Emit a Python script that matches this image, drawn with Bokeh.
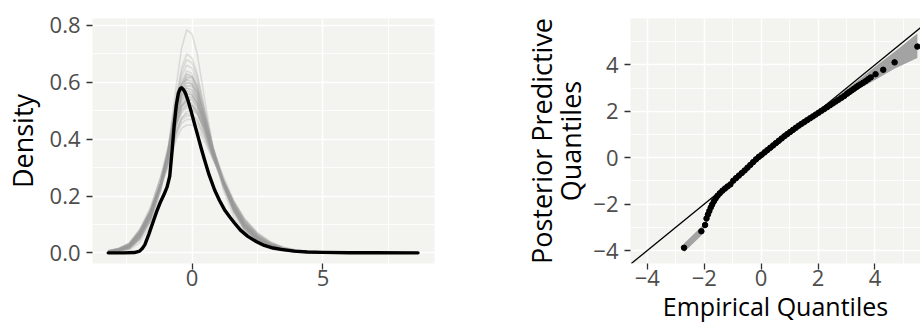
from bokeh.plotting import figure
from bokeh.layouts import row
from bokeh.models import FixedTicker, Slope, Range1d
from bokeh.embed import file_html
from bokeh.resources import INLINE

# ---------------- data: left panel (density overlay) ----------------
obs_x = [-3.2, -2.6, -2.2, -2.0, -1.9, -1.8, -1.65, -1.5, -1.35, -1.2, -1.07, -0.95, -0.85,
         -0.76, -0.68, -0.6, -0.52, -0.45, -0.40, -0.34, -0.25, -0.15, -0.03, 0.1, 0.23,
         0.35, 0.48, 0.65, 0.86, 1.05, 1.24, 1.45, 1.62, 1.85, 2.13, 2.45, 2.76, 3.1, 3.4,
         3.9, 4.4, 5.0, 6.0, 7.0, 8.63]
obs_y = [0.0, 0.0, 0.001, 0.006, 0.015, 0.029, 0.065, 0.105, 0.145, 0.180, 0.205, 0.232, 0.27,
         0.36, 0.45, 0.52, 0.562, 0.578, 0.581, 0.576, 0.562, 0.535, 0.497, 0.452, 0.409,
         0.368, 0.327, 0.275, 0.222, 0.184, 0.152, 0.125, 0.105, 0.080, 0.058, 0.040, 0.026,
         0.017, 0.012, 0.006, 0.003, 0.0015, 0.0005, 0.0002, 0.0]

rep_x = [-3.2, -2.8, -2.4, -2.0, -1.6, -1.2, -0.9, -0.6, -0.4, -0.2, 0.0, 0.2, 0.5, 0.8,
         1.2, 1.6, 2.0, 2.5, 3.0, 3.5, 4.0, 4.5, 5.0, 5.5]
rep_1 = [0.002, 0.004, 0.010, 0.035, 0.095, 0.215, 0.37, 0.59, 0.72, 0.785, 0.77, 0.70, 0.53, 0.37, 0.22, 0.125, 0.068, 0.032, 0.014, 0.006, 0.003, 0.001, 0.0, 0.0]
rep_2 = [0.003, 0.006, 0.014, 0.045, 0.11, 0.23, 0.37, 0.55, 0.65, 0.70, 0.685, 0.63, 0.50, 0.37, 0.235, 0.14, 0.078, 0.038, 0.017, 0.008, 0.003, 0.001, 0.0, 0.0]
rep_3 = [0.003, 0.007, 0.016, 0.05, 0.115, 0.235, 0.37, 0.545, 0.635, 0.68, 0.668, 0.62, 0.495, 0.37, 0.24, 0.145, 0.082, 0.04, 0.018, 0.008, 0.003, 0.001, 0.0, 0.0]
rep_4 = [0.003, 0.007, 0.017, 0.052, 0.12, 0.24, 0.37, 0.535, 0.62, 0.66, 0.65, 0.605, 0.485, 0.365, 0.24, 0.148, 0.085, 0.042, 0.02, 0.009, 0.004, 0.001, 0.0, 0.0]
rep_5 = [0.003, 0.008, 0.019, 0.056, 0.125, 0.24, 0.36, 0.52, 0.595, 0.63, 0.622, 0.58, 0.47, 0.36, 0.24, 0.15, 0.088, 0.045, 0.021, 0.01, 0.004, 0.002, 0.001, 0.0]
rep_6 = [0.004, 0.009, 0.02, 0.058, 0.128, 0.242, 0.36, 0.515, 0.587, 0.62, 0.612, 0.572, 0.466, 0.358, 0.242, 0.152, 0.09, 0.046, 0.022, 0.01, 0.005, 0.002, 0.001, 0.0]
rep_7 = [0.003, 0.008, 0.019, 0.055, 0.122, 0.235, 0.352, 0.505, 0.578, 0.61, 0.605, 0.57, 0.47, 0.365, 0.248, 0.157, 0.093, 0.047, 0.022, 0.01, 0.005, 0.002, 0.001, 0.0]
rep_8 = [0.004, 0.009, 0.021, 0.06, 0.13, 0.243, 0.357, 0.505, 0.572, 0.60, 0.592, 0.555, 0.458, 0.355, 0.245, 0.156, 0.094, 0.049, 0.024, 0.011, 0.005, 0.002, 0.001, 0.0]
rep_9 = [0.004, 0.01, 0.022, 0.062, 0.133, 0.245, 0.356, 0.5, 0.565, 0.59, 0.583, 0.548, 0.455, 0.355, 0.246, 0.158, 0.096, 0.05, 0.025, 0.012, 0.005, 0.002, 0.001, 0.0]
rep_10 = [0.004, 0.01, 0.023, 0.064, 0.135, 0.245, 0.354, 0.492, 0.555, 0.58, 0.574, 0.541, 0.452, 0.354, 0.247, 0.16, 0.097, 0.051, 0.025, 0.012, 0.006, 0.003, 0.001, 0.0]
rep_11 = [0.004, 0.01, 0.023, 0.063, 0.132, 0.24, 0.347, 0.483, 0.545, 0.57, 0.566, 0.536, 0.452, 0.357, 0.252, 0.164, 0.1, 0.053, 0.026, 0.012, 0.006, 0.003, 0.001, 0.0]
rep_12 = [0.005, 0.011, 0.025, 0.067, 0.138, 0.245, 0.35, 0.479, 0.537, 0.56, 0.555, 0.525, 0.442, 0.35, 0.248, 0.163, 0.1, 0.054, 0.027, 0.013, 0.006, 0.003, 0.001, 0.0]
rep_13 = [0.005, 0.011, 0.025, 0.067, 0.137, 0.243, 0.346, 0.472, 0.528, 0.55, 0.546, 0.518, 0.438, 0.348, 0.248, 0.164, 0.102, 0.055, 0.028, 0.013, 0.006, 0.003, 0.001, 0.0]
rep_14 = [0.005, 0.012, 0.026, 0.069, 0.14, 0.244, 0.344, 0.466, 0.519, 0.54, 0.537, 0.511, 0.435, 0.348, 0.25, 0.166, 0.104, 0.057, 0.029, 0.014, 0.007, 0.003, 0.001, 0.0]
rep_15 = [0.005, 0.012, 0.027, 0.07, 0.14, 0.242, 0.34, 0.458, 0.51, 0.53, 0.527, 0.503, 0.43, 0.346, 0.25, 0.168, 0.106, 0.058, 0.03, 0.014, 0.007, 0.003, 0.001, 0.0]
rep_16 = [0.006, 0.013, 0.029, 0.073, 0.143, 0.242, 0.333, 0.445, 0.492, 0.51, 0.508, 0.487, 0.42, 0.342, 0.252, 0.172, 0.11, 0.061, 0.032, 0.015, 0.007, 0.003, 0.001, 0.0]
rep_17 = [0.006, 0.014, 0.03, 0.075, 0.144, 0.238, 0.325, 0.43, 0.474, 0.49, 0.489, 0.47, 0.41, 0.338, 0.253, 0.175, 0.114, 0.064, 0.034, 0.017, 0.008, 0.004, 0.002, 0.0]
rep_18 = [0.007, 0.015, 0.032, 0.078, 0.146, 0.236, 0.318, 0.415, 0.456, 0.47, 0.469, 0.453, 0.4, 0.333, 0.253, 0.178, 0.118, 0.068, 0.036, 0.018, 0.009, 0.004, 0.002, 0.0]
rep_19 = [0.007, 0.016, 0.034, 0.08, 0.147, 0.232, 0.309, 0.4, 0.438, 0.45, 0.45, 0.436, 0.389, 0.328, 0.253, 0.181, 0.122, 0.071, 0.039, 0.02, 0.01, 0.005, 0.002, 0.0]
rep_20 = [0.005, 0.012, 0.028, 0.071, 0.142, 0.243, 0.337, 0.452, 0.501, 0.52, 0.518, 0.495, 0.425, 0.344, 0.251, 0.17, 0.108, 0.06, 0.031, 0.015, 0.007, 0.003, 0.001, 0.0]
rep_21 = [0.003, 0.008, 0.018, 0.054, 0.122, 0.238, 0.362, 0.525, 0.603, 0.64, 0.632, 0.59, 0.476, 0.362, 0.24, 0.149, 0.087, 0.044, 0.02, 0.009, 0.004, 0.002, 0.001, 0.0]
rep_22 = [0.002, 0.006, 0.015, 0.047, 0.11, 0.222, 0.34, 0.495, 0.575, 0.615, 0.62, 0.59, 0.49, 0.375, 0.25, 0.157, 0.092, 0.046, 0.021, 0.01, 0.004, 0.002, 0.001, 0.0]
rep_23 = [0.005, 0.011, 0.025, 0.068, 0.145, 0.265, 0.38, 0.53, 0.595, 0.61, 0.595, 0.55, 0.445, 0.34, 0.23, 0.145, 0.086, 0.044, 0.021, 0.01, 0.004, 0.002, 0.001, 0.0]
rep_24 = [0.003, 0.008, 0.02, 0.058, 0.127, 0.24, 0.354, 0.5, 0.568, 0.598, 0.596, 0.562, 0.466, 0.36, 0.247, 0.156, 0.093, 0.048, 0.023, 0.011, 0.005, 0.002, 0.001, 0.0]
rep_25 = [0.003, 0.007, 0.018, 0.053, 0.12, 0.228, 0.337, 0.478, 0.548, 0.585, 0.59, 0.565, 0.477, 0.372, 0.256, 0.163, 0.098, 0.05, 0.024, 0.011, 0.005, 0.002, 0.001, 0.0]
rep_26 = [0.004, 0.01, 0.022, 0.062, 0.133, 0.244, 0.353, 0.49, 0.553, 0.578, 0.573, 0.54, 0.452, 0.354, 0.248, 0.16, 0.097, 0.051, 0.025, 0.012, 0.006, 0.003, 0.001, 0.0]
rep_27 = [0.006, 0.013, 0.029, 0.075, 0.152, 0.264, 0.367, 0.497, 0.553, 0.57, 0.56, 0.525, 0.435, 0.338, 0.235, 0.152, 0.092, 0.048, 0.024, 0.011, 0.005, 0.002, 0.001, 0.0]
rep_28 = [0.004, 0.01, 0.024, 0.066, 0.137, 0.245, 0.35, 0.478, 0.536, 0.56, 0.556, 0.527, 0.444, 0.351, 0.249, 0.163, 0.1, 0.054, 0.027, 0.013, 0.006, 0.003, 0.001, 0.0]
rep_29 = [0.004, 0.009, 0.021, 0.059, 0.125, 0.228, 0.326, 0.452, 0.512, 0.542, 0.55, 0.53, 0.458, 0.368, 0.263, 0.172, 0.106, 0.057, 0.029, 0.014, 0.007, 0.003, 0.001, 0.0]
rep_30 = [0.005, 0.011, 0.025, 0.067, 0.138, 0.243, 0.343, 0.465, 0.52, 0.542, 0.54, 0.515, 0.44, 0.352, 0.252, 0.167, 0.104, 0.056, 0.028, 0.013, 0.006, 0.003, 0.001, 0.0]
rep_31 = [0.007, 0.015, 0.033, 0.082, 0.158, 0.264, 0.356, 0.47, 0.518, 0.53, 0.522, 0.494, 0.418, 0.334, 0.24, 0.16, 0.1, 0.054, 0.028, 0.013, 0.006, 0.003, 0.001, 0.0]
rep_32 = [0.005, 0.012, 0.028, 0.071, 0.141, 0.242, 0.336, 0.451, 0.5, 0.519, 0.518, 0.496, 0.427, 0.346, 0.252, 0.17, 0.108, 0.06, 0.031, 0.015, 0.007, 0.003, 0.001, 0.0]
rep_33 = [0.005, 0.011, 0.025, 0.065, 0.13, 0.225, 0.313, 0.424, 0.474, 0.497, 0.502, 0.49, 0.435, 0.361, 0.268, 0.183, 0.117, 0.065, 0.034, 0.017, 0.008, 0.004, 0.002, 0.0]
rep_34 = [0.006, 0.014, 0.031, 0.077, 0.145, 0.237, 0.322, 0.424, 0.467, 0.482, 0.482, 0.464, 0.407, 0.337, 0.254, 0.176, 0.115, 0.065, 0.035, 0.017, 0.008, 0.004, 0.002, 0.0]
rep_35 = [0.002, 0.006, 0.015, 0.048, 0.113, 0.228, 0.352, 0.513, 0.592, 0.628, 0.62, 0.578, 0.467, 0.356, 0.237, 0.146, 0.084, 0.042, 0.019, 0.009, 0.004, 0.002, 0.001, 0.0]
rep_curves = [rep_1, rep_2, rep_3, rep_4, rep_5, rep_6, rep_7, rep_8, rep_9, rep_10,
              rep_11, rep_12, rep_13, rep_14, rep_15, rep_16, rep_17, rep_18, rep_19, rep_20,
              rep_21, rep_22, rep_23, rep_24, rep_25, rep_26, rep_27, rep_28, rep_29, rep_30,
              rep_31, rep_32, rep_33, rep_34, rep_35]

dens_x_ticks = [0, 5]
dens_x_minor = [-2.5, 2.5, 7.5]
dens_y_ticks = [0.0, 0.2, 0.4, 0.6, 0.8]
dens_y_minor = [0.1, 0.3, 0.5, 0.7]
dens_y_labels = {0.0: "0.0", 0.2: "0.2", 0.4: "0.4", 0.6: "0.6", 0.8: "0.8"}

# ---------------- data: right panel (QQ) ----------------
emp_q = [-2.71, -2.10, -1.97, -1.92, -1.87, -1.82, -1.77, -1.72, -1.66, -1.60, -1.53, -1.45,
         -1.36, -1.27, -1.18, -1.08, -0.98, -0.88, -0.78, -0.68, -0.58, -0.48, -0.38, -0.28,
         -0.18, -0.08, 0.02, 0.12, 0.22, 0.32, 0.42, 0.52, 0.62, 0.72, 0.82, 0.92, 1.02,
         1.12, 1.22, 1.32, 1.42, 1.52, 1.62, 1.72, 1.82, 1.92, 2.02, 2.12, 2.22, 2.32, 2.42,
         2.52, 2.62, 2.72, 2.82, 2.92, 3.02, 3.10, 3.18, 3.26, 3.34, 3.41, 3.49, 3.58, 3.67,
         3.76, 3.85, 4.02, 4.29, 4.69, 5.49]
pred_q = [-3.88, -3.17, -2.90, -2.62, -2.45, -2.30, -2.15, -2.02, -1.88, -1.76, -1.64, -1.53,
          -1.42, -1.33, -1.24, -1.15, -0.99, -0.88, -0.77, -0.66, -0.55, -0.43, -0.31, -0.19,
          -0.07, 0.04, 0.13, 0.23, 0.33, 0.43, 0.53, 0.63, 0.73, 0.83, 0.93, 1.02, 1.11,
          1.20, 1.29, 1.38, 1.46, 1.54, 1.62, 1.70, 1.78, 1.86, 1.94, 2.02, 2.10, 2.18, 2.26,
          2.34, 2.42, 2.50, 2.58, 2.66, 2.76, 2.83, 2.90, 2.97, 3.04, 3.10, 3.16, 3.23, 3.30,
          3.38, 3.46, 3.60, 3.79, 4.11, 4.79]

band_x = [-2.71, -2.10, -1.97, -1.6, -1.0, 0.0, 1.0, 1.5, 2.0, 2.5, 3.0, 3.5, 4.0, 4.7, 5.49]
band_lo = [-4.08, -3.35, -3.00, -1.85, -1.10, 0.00, 0.98, 1.45, 1.82, 2.22, 2.60, 3.00, 3.35, 3.85, 4.30]
band_hi = [-3.70, -2.98, -2.75, -1.65, -0.90, 0.20, 1.20, 1.58, 1.99, 2.46, 2.95, 3.42, 3.92, 4.58, 5.35]

qq_ticks = [-4, -2, 0, 2, 4]
qq_minor = [-5, -3, -1, 1, 3, 5]
qq_labels = {-4: "\u22124", -2: "\u22122", 0: "0", 2: "2", 4: "4"}

# ---------------- styling ----------------
FONT = "Open Sans"
PANEL_BG = "#F3F3EF"


def style(p):
    p.background_fill_color = PANEL_BG
    p.border_fill_color = "white"
    p.outline_line_color = None
    for ax in (p.xaxis, p.yaxis):
        ax.axis_line_color = None
        ax.major_tick_line_color = "#333333"
        ax.major_tick_line_width = 1.3
        ax.major_tick_out = 6
        ax.major_tick_in = 0
        ax.minor_tick_line_color = None
        ax.major_label_text_font = FONT
        ax.major_label_text_font_size = "22px"
        ax.major_label_text_color = "#4D4D4D"
        ax.axis_label_text_font = FONT
        ax.axis_label_text_font_size = "27px"
        ax.axis_label_text_color = "black"
        ax.axis_label_text_font_style = "normal"
        ax.axis_label_standoff = 6
    p.xaxis.major_label_standoff = 0
    p.yaxis.major_label_standoff = 6
    p.grid.grid_line_color = "white"
    p.grid.grid_line_width = 1.6
    p.grid.minor_grid_line_color = "white"
    p.grid.minor_grid_line_width = 0.8


# Left: density overlay
p1 = figure(width=460, height=325, output_backend="svg", toolbar_location=None,
            x_range=Range1d(-3.8, 9.26), y_range=Range1d(-0.0375, 0.8246),
            min_border_left=91, min_border_right=26, min_border_top=18, min_border_bottom=61)
style(p1)
p1.xaxis.ticker = FixedTicker(ticks=dens_x_ticks, minor_ticks=dens_x_minor)
p1.yaxis.ticker = FixedTicker(ticks=dens_y_ticks, minor_ticks=dens_y_minor)
p1.yaxis.major_label_overrides = dens_y_labels
p1.yaxis.axis_label = "Density"

for ys in rep_curves:
    p1.line(rep_x, ys, line_color="#999999", line_alpha=0.28, line_width=1.6)
p1.line(obs_x, obs_y, line_color="black", line_width=3.4, line_join="round", line_cap="round")

# Right: QQ plot
p2 = figure(width=460, height=325, output_backend="svg", toolbar_location=None,
            x_range=Range1d(-4.59, 5.6), y_range=Range1d(-4.56, 6.0),
            min_border_left=170, min_border_right=0, min_border_top=18, min_border_bottom=61)
style(p2)
p2.xaxis.ticker = FixedTicker(ticks=qq_ticks, minor_ticks=qq_minor)
p2.yaxis.ticker = FixedTicker(ticks=qq_ticks, minor_ticks=qq_minor)
p2.xaxis.major_label_overrides = qq_labels
p2.yaxis.major_label_overrides = qq_labels
p2.yaxis.axis_label = "Posterior Predictive\nQuantiles"
p2.yaxis.axis_label_text_line_height = 0.8
p2.yaxis.axis_label_standoff = 1
p2.xaxis.axis_label = "Empirical Quantiles"
p2.xaxis.axis_label_text_font_size = "25px"
p2.xaxis.axis_label_standoff = 0

p2.varea(x=band_x, y1=band_lo, y2=band_hi, fill_color="#A3A3A3")
p2.add_layout(Slope(gradient=1, y_intercept=0, line_color="black", line_width=1.3))
p2.scatter(emp_q, pred_q, size=5.5, color="black")

layout = row(p1, p2)
open("out.html", "w").write(file_html(layout, INLINE))
